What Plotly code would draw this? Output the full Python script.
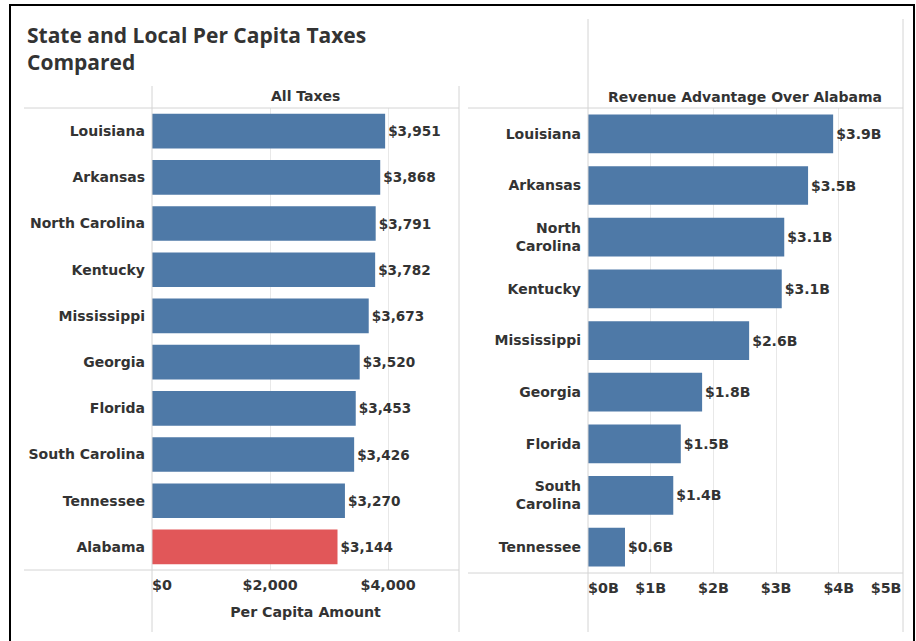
import plotly.graph_objects as go

# ---- data ----
states_all = ["Louisiana", "Arkansas", "North Carolina", "Kentucky", "Mississippi",
              "Georgia", "Florida", "South Carolina", "Tennessee", "Alabama"]
per_capita = [3951, 3868, 3791, 3782, 3673, 3520, 3453, 3426, 3270, 3144]

states_adv = ["Louisiana", "Arkansas", "North<br>Carolina", "Kentucky", "Mississippi",
              "Georgia", "Florida", "South<br>Carolina", "Tennessee"]
advantage_b = [3.91, 3.51, 3.13, 3.09, 2.57, 1.82, 1.48, 1.36, 0.59]

left_ticks = [0, 2000, 4000]
right_ticks = [0, 1, 2, 3, 4, 5]

BLUE = "#4E79A7"
RED = "#E15759"
TXT = "#333333"
FONT = "DejaVu Sans"
TFONT = "Open Sans"
W, H = 916, 641
LEFT_RANGE = [0, 5203]
RIGHT_RANGE = [0, 5.024]

def px(x):
    return x / W

def py(y):
    return 1 - y / H

def fmt_left(v):
    return f"${v:,}"

def fmt_right(v):
    return f"${v}B"

bar_colors = [RED if s == "Alabama" else BLUE for s in states_all]

fig = go.Figure()
fig.add_trace(go.Bar(
    x=per_capita, y=states_all, orientation="h",
    marker=dict(color=bar_colors, line=dict(width=0)),
    texttemplate="$%{x:,.0f}", textposition="outside", cliponaxis=False,
    textfont=dict(family=FONT, size=13.6, color=TXT, weight=700),
    xaxis="x", yaxis="y", showlegend=False, hoverinfo="skip",
))
fig.add_trace(go.Bar(
    x=advantage_b, y=states_adv, orientation="h",
    marker=dict(color=BLUE, line=dict(width=0)),
    texttemplate="$%{x:.1f}B", textposition="outside", cliponaxis=False,
    textfont=dict(family=FONT, size=14, color=TXT, weight=700),
    xaxis="x2", yaxis="y2", showlegend=False, hoverinfo="skip",
))
# empty traces so the edge-label overlay axes get drawn
for xa, ya in (("x3", "y"), ("x4", "y2"), ("x5", "y2")):
    fig.add_trace(go.Scatter(x=[None], y=[None], mode="markers", xaxis=xa, yaxis=ya,
                             showlegend=False, hoverinfo="skip"))

tickfont = dict(family=FONT, size=14.3, color=TXT, weight=700)
catfont = dict(family=FONT, size=14, color=TXT, weight=700)
grid = "#e8e8e8"

def edge_axis(over, anchor, rng, vals, texts, pos):
    return dict(overlaying=over, anchor=anchor, range=rng, automargin=False,
                tickmode="array", tickvals=vals, ticktext=texts,
                ticklabelposition=pos, ticklabeloverflow="allow",
                showgrid=False, zeroline=False, showline=False, ticks="",
                tickfont=tickfont, ticklabelstandoff=5, fixedrange=True)

mid_left = left_ticks[1:]
mid_right = right_ticks[1:-1]

fig.update_layout(
    template="none",
    width=W, height=H, margin=dict(l=0, r=0, t=0, b=0, autoexpand=False),
    paper_bgcolor="white", plot_bgcolor="white",
    bargap=0.25,
    xaxis=dict(domain=[px(152), px(459)], range=LEFT_RANGE, anchor="y",
               automargin=False,
               tickmode="array", tickvals=mid_left,
               ticktext=[fmt_left(v) for v in mid_left],
               showgrid=True, gridcolor=grid, gridwidth=1, zeroline=False, showline=False,
               ticks="", tickfont=tickfont, ticklabelstandoff=5, fixedrange=True,
               title=dict(text="Per Capita Amount",
                          font=dict(family=FONT, size=14.2, color=TXT, weight=700),
                          standoff=14)),
    yaxis=dict(domain=[py(570), py(108)], anchor="x", autorange="reversed",
               automargin=False,
               showgrid=False, zeroline=False, showline=False, ticks="",
               ticklabelstandoff=6, tickfont=catfont, fixedrange=True),
    xaxis2=dict(domain=[px(588), px(903)], range=RIGHT_RANGE, anchor="y2",
                automargin=False,
                tickmode="array", tickvals=mid_right,
                ticktext=[fmt_right(v) for v in mid_right],
                showgrid=True, gridcolor=grid, gridwidth=1, zeroline=False, showline=False,
                ticks="", tickfont=tickfont, ticklabelstandoff=5, fixedrange=True),
    yaxis2=dict(domain=[py(573), py(108)], anchor="x2", autorange="reversed",
                automargin=False,
                showgrid=False, zeroline=False, showline=False, ticks="",
                ticklabelstandoff=6, tickfont=catfont, fixedrange=True),
    # edge tick labels, aligned inside the panel like the original
    xaxis3=edge_axis("x", "y", LEFT_RANGE, [left_ticks[0]], [fmt_left(left_ticks[0])], "outside right"),
    xaxis4=edge_axis("x2", "y2", RIGHT_RANGE, [right_ticks[0]], [fmt_right(right_ticks[0])], "outside right"),
    xaxis5=edge_axis("x2", "y2", RIGHT_RANGE, [right_ticks[-1]], [fmt_right(right_ticks[-1])], "outside left"),
)

line_col = "#d4d4d4"
seg = [
    (152, 86, 152, 632), (459, 86, 459, 632),
    (588, 19, 588, 632), (903, 19, 903, 632),
    (24, 108, 459, 108), (24, 570, 459, 570),
    (468, 108, 903, 108), (468, 573, 903, 573),
]
for x0, y0, x1, y1 in seg:
    fig.add_shape(type="line", xref="paper", yref="paper",
                  x0=px(x0), y0=py(y0), x1=px(x1), y1=py(y1),
                  line=dict(color=line_col, width=1), layer="above")

# outer black frame
fig.add_shape(type="rect", xref="paper", yref="paper",
              x0=px(10), y0=py(5), x1=px(914), y1=py(660),
              line=dict(color="black", width=2), fillcolor="rgba(0,0,0,0)")

fig.add_annotation(text="State and Local Per Capita Taxes<br>Compared",
                   xref="paper", yref="paper", x=px(25), y=py(19),
                   xanchor="left", yanchor="top", align="left", showarrow=False,
                   font=dict(family=TFONT, size=21, color=TXT, weight=700))
fig.add_annotation(text="All Taxes", xref="paper", yref="paper",
                   x=px(305), y=py(96), xanchor="center", yanchor="middle",
                   showarrow=False, font=dict(family=FONT, size=14, color=TXT, weight=700))
fig.add_annotation(text="Revenue Advantage Over Alabama", xref="paper", yref="paper",
                   x=px(745), y=py(97), xanchor="center", yanchor="middle",
                   showarrow=False, font=dict(family=FONT, size=14, color=TXT, weight=700))

fig.write_html("out.html")
